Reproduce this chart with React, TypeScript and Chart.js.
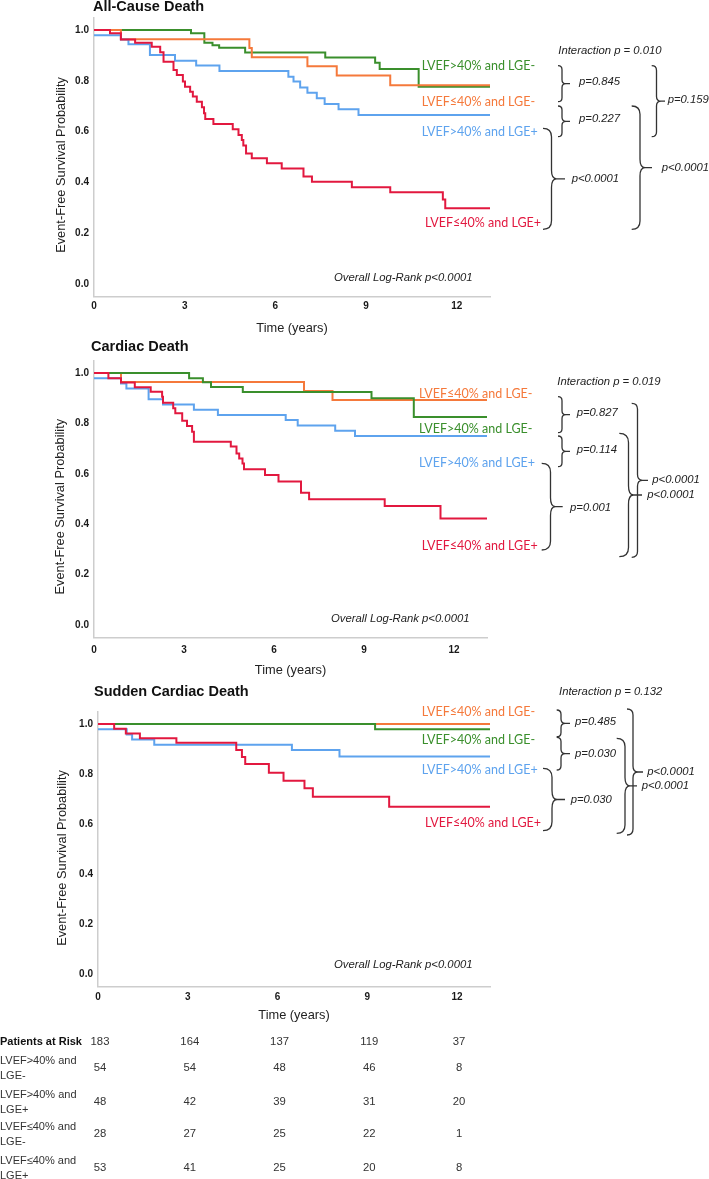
import { useEffect, useRef } from "react";
import { Chart, registerables } from "chart.js";

Chart.register(...registerables);

// ---------------- data ----------------
const X_TICKS = [0, 3, 6, 9, 12];
const Y_TICKS = [0, 0.2, 0.4, 0.6, 0.8, 1.0];
const X_MAX = 13.1;

const GROUP_GREEN = "LVEF>40% and LGE-";
const GROUP_BLUE = "LVEF>40% and LGE+";
const GROUP_ORANGE = "LVEF≤40% and LGE-";
const GROUP_RED = "LVEF≤40% and LGE+";

// All-cause death
const acGreenT = [0, 3.21, 3.65, 3.92, 4.14, 5.0, 7.65, 9.3, 9.45, 10.74, 13.1];
const acGreenS = [1.0, 0.987, 0.95, 0.94, 0.93, 0.911, 0.892, 0.871, 0.846, 0.777, 0.777];
const acOrangeT = [0, 0.89, 5.14, 5.22, 7.06, 8.03, 9.8, 13.1];
const acOrangeS = [1.0, 0.964, 0.929, 0.893, 0.857, 0.821, 0.782, 0.782];
const acBlueT = [0, 0.89, 1.14, 1.85, 2.68, 3.38, 4.15, 6.43, 6.6, 6.82, 7.06, 7.37, 7.63, 8.09, 8.75, 13.1];
const acBlueS = [0.979, 0.963, 0.944, 0.902, 0.879, 0.86, 0.839, 0.816, 0.797, 0.774, 0.753, 0.731, 0.709, 0.688, 0.665, 0.665];
const acRedT = [0, 0.53, 0.89, 1.36, 1.91, 2.19, 2.3, 2.63, 2.74, 2.94, 3.01, 3.18, 3.27, 3.4, 3.57, 3.64, 3.68, 3.95, 4.59, 4.78, 4.89, 4.94, 5.03, 5.22, 5.72, 6.21, 6.93, 7.21, 8.53, 9.8, 11.54, 11.62, 13.1];
const acRedS = [1.0, 0.987, 0.963, 0.95, 0.934, 0.912, 0.875, 0.843, 0.823, 0.797, 0.777, 0.757, 0.738, 0.718, 0.696, 0.672, 0.65, 0.63, 0.609, 0.587, 0.567, 0.545, 0.514, 0.495, 0.475, 0.455, 0.423, 0.403, 0.381, 0.361, 0.333, 0.298, 0.298];

// Cardiac death
const cdGreenT = [0, 3.17, 3.63, 3.9, 4.96, 9.25, 10.66, 13.1];
const cdGreenS = [1.0, 0.979, 0.963, 0.944, 0.925, 0.9, 0.825, 0.825];
const cdOrangeT = [0, 0.9, 7.0, 7.95, 13.1];
const cdOrangeS = [1.0, 0.964, 0.929, 0.893, 0.893];
const cdBlueT = [0, 0.9, 1.08, 1.82, 2.3, 3.33, 4.13, 6.39, 6.79, 8.04, 8.7, 13.1];
const cdBlueS = [0.979, 0.958, 0.938, 0.896, 0.875, 0.854, 0.833, 0.813, 0.792, 0.771, 0.75, 0.75];
const cdRedT = [0, 0.48, 0.9, 1.36, 1.89, 2.27, 2.3, 2.64, 2.71, 2.94, 3.1, 3.27, 3.33, 4.56, 4.75, 4.84, 4.95, 5.0, 5.7, 6.15, 6.9, 7.17, 9.69, 11.55, 13.1];
const cdRedS = [1.0, 0.979, 0.962, 0.943, 0.926, 0.906, 0.882, 0.86, 0.84, 0.811, 0.79, 0.767, 0.727, 0.708, 0.681, 0.661, 0.641, 0.618, 0.595, 0.569, 0.525, 0.499, 0.472, 0.423, 0.423];

// Sudden cardiac death
const scdGreenT = [0, 9.26, 13.1];
const scdGreenS = [1.0, 0.979, 0.979];
const scdOrangeT = [0, 13.1];
const scdOrangeS = [1.0, 1.0];
const scdBlueT = [0, 0.96, 1.14, 1.88, 6.48, 8.07, 13.1];
const scdBlueS = [0.979, 0.958, 0.938, 0.917, 0.896, 0.87, 0.87];
const scdRedT = [0, 0.54, 0.93, 1.4, 2.62, 4.62, 4.81, 4.92, 5.71, 6.2, 6.9, 7.18, 9.73, 13.1];
const scdRedS = [1.0, 0.981, 0.962, 0.943, 0.925, 0.896, 0.868, 0.84, 0.805, 0.773, 0.743, 0.709, 0.669, 0.669];

// Patients at risk
const riskTotal = [183, 164, 137, 119, 37];
const riskGreen = [54, 54, 48, 46, 8];
const riskBlue = [48, 42, 39, 31, 20];
const riskOrange = [28, 27, 25, 22, 1];
const riskRed = [53, 41, 25, 20, 8];

// p-values
const acP = { interaction: "0.010", gvo: "p=0.845", ovb: "p=0.227", bvr: "p<0.0001", g2: "p=0.159", o2: "p<0.0001" };
const cdP = { interaction: "0.019", a: "p=0.827", b: "p=0.114", c: "p=0.001", d: "p<0.0001", e: "p<0.0001" };
const scdP = { interaction: "0.132", a: "p=0.485", b: "p=0.030", c: "p=0.030", d: "p<0.0001", e: "p<0.0001" };

// ---------------- styles ----------------
const C_GREEN = "#3a8f2c";
const C_ORANGE = "#f5793b";
const C_BLUE = "#5ea3ee";
const C_RED = "#e2183f";
const SANS = "'Liberation Sans', Arial, sans-serif";
const LABEL_FONT = "12.5px Lato, 'Liberation Sans', sans-serif";
const Y_AXIS_W = 90;
const X_AXIS_H = 28;

type Brace = { xh: number; xv: number; xt: number; y1: number; y2: number; text: string; tx: number; ty: number };
type Lbl = { text: string; color: string; x: number; y: number };
type Series = { t: number[]; s: number[]; color: string };
type Panel = {
  top: number; height: number; left: number; right: number; areaTop: number; areaBottom: number; tickPad: number;
  title: string; titleX: number; titleY: number; yTitleX: number; yTitleY: number; xTitleY: number;
  interaction: string; interX: number; interY: number; logRankY: number;
  series: Series[]; labels: Lbl[]; braces: Brace[]; table?: boolean;
};

const panels: Panel[] = [
  {
    top: 0, height: 340, left: 94, right: 490, areaTop: 17.3, areaBottom: 296.7, tickPad: 4,
    title: "All-Cause Death", titleX: 93, titleY: 6.5, yTitleX: 61.5, yTitleY: 165, xTitleY: 328.5,
    interaction: acP.interaction, interX: 558.3, interY: 51, logRankY: 277.7,
    series: [
      { t: acRedT, s: acRedS, color: C_RED },
      { t: acBlueT, s: acBlueS, color: C_BLUE },
      { t: acOrangeT, s: acOrangeS, color: C_ORANGE },
      { t: acGreenT, s: acGreenS, color: C_GREEN },
    ],
    labels: [
      { text: GROUP_GREEN, color: C_GREEN, x: 421.7, y: 65.7 },
      { text: GROUP_ORANGE, color: C_ORANGE, x: 421.7, y: 102.3 },
      { text: GROUP_BLUE, color: C_BLUE, x: 421.7, y: 131.7 },
      { text: GROUP_RED, color: C_RED, x: 425, y: 222.7 },
    ],
    braces: [
      { xh: 558, xv: 562, xt: 570, y1: 65.7, y2: 101.7, text: acP.gvo, tx: 579, ty: 82.3 },
      { xh: 558, xv: 562, xt: 570, y1: 106, y2: 136.7, text: acP.ovb, tx: 579, ty: 119.3 },
      { xh: 543, xv: 551.5, xt: 565, y1: 128.3, y2: 229.3, text: acP.bvr, tx: 571.7, ty: 179.3 },
      { xh: 651.7, xv: 656.5, xt: 665, y1: 65.7, y2: 136.7, text: acP.g2, tx: 667.7, ty: 100 },
      { xh: 631.7, xv: 640, xt: 652, y1: 106, y2: 229.3, text: acP.o2, tx: 661.7, ty: 167.7 },
    ],
  },
  {
    top: 340, height: 340, left: 94, right: 487, areaTop: 360.4, areaBottom: 637.6, tickPad: 7,
    title: "Cardiac Death", titleX: 91, titleY: 347.3, yTitleX: 60.5, yTitleY: 506.7, xTitleY: 670,
    interaction: cdP.interaction, interX: 557.3, interY: 381.7, logRankY: 619,
    series: [
      { t: cdRedT, s: cdRedS, color: C_RED },
      { t: cdBlueT, s: cdBlueS, color: C_BLUE },
      { t: cdGreenT, s: cdGreenS, color: C_GREEN },
      { t: cdOrangeT, s: cdOrangeS, color: C_ORANGE },
    ],
    labels: [
      { text: GROUP_ORANGE, color: C_ORANGE, x: 419, y: 394 },
      { text: GROUP_GREEN, color: C_GREEN, x: 419, y: 429.3 },
      { text: GROUP_BLUE, color: C_BLUE, x: 419, y: 463.3 },
      { text: GROUP_RED, color: C_RED, x: 421.7, y: 546 },
    ],
    braces: [
      { xh: 558, xv: 562, xt: 570, y1: 396.7, y2: 432.7, text: cdP.a, tx: 576.7, ty: 412.7 },
      { xh: 558, xv: 562, xt: 570, y1: 436, y2: 466.7, text: cdP.b, tx: 576.7, ty: 450 },
      { xh: 541.7, xv: 550.5, xt: 562.7, y1: 463.3, y2: 550, text: cdP.c, tx: 570, ty: 508.3 },
      { xh: 631.7, xv: 637.5, xt: 648, y1: 403.3, y2: 557.3, text: cdP.d, tx: 652.3, ty: 480 },
      { xh: 619.3, xv: 628.5, xt: 642, y1: 433.3, y2: 556.7, text: cdP.e, tx: 647.3, ty: 495 },
    ],
  },
  {
    top: 680, height: 499, left: 98, right: 490, areaTop: 711.5, areaBottom: 986.5, tickPad: 5,
    title: "Sudden Cardiac Death", titleX: 94, titleY: 692.3, yTitleX: 62, yTitleY: 858, xTitleY: 1015,
    interaction: scdP.interaction, interX: 559, interY: 691.7, logRankY: 965,
    series: [
      { t: scdRedT, s: scdRedS, color: C_RED },
      { t: scdBlueT, s: scdBlueS, color: C_BLUE },
      { t: scdGreenT, s: scdGreenS, color: C_GREEN },
      { t: scdOrangeT, s: scdOrangeS, color: C_ORANGE },
    ],
    labels: [
      { text: GROUP_ORANGE, color: C_ORANGE, x: 421.7, y: 711.7 },
      { text: GROUP_GREEN, color: C_GREEN, x: 421.7, y: 740 },
      { text: GROUP_BLUE, color: C_BLUE, x: 421.7, y: 770 },
      { text: GROUP_RED, color: C_RED, x: 425, y: 823.3 },
    ],
    braces: [
      { xh: 556.7, xv: 561, xt: 570, y1: 710, y2: 736.7, text: scdP.a, tx: 575, ty: 722.3 },
      { xh: 556.7, xv: 561, xt: 570, y1: 737.3, y2: 770, text: scdP.b, tx: 575, ty: 754.3 },
      { xh: 543, xv: 552, xt: 565, y1: 768.3, y2: 830.7, text: scdP.c, tx: 570.7, ty: 800 },
      { xh: 627, xv: 633, xt: 643, y1: 709, y2: 835, text: scdP.d, tx: 647.3, ty: 771.7 },
      { xh: 616.7, xv: 625, xt: 637, y1: 738.3, y2: 833.3, text: scdP.e, tx: 641.7, ty: 785.7 },
    ],
    table: true,
  },
];

const RISK_ROWS: { name: string; values: number[] }[] = [
  { name: GROUP_GREEN, values: riskGreen },
  { name: GROUP_BLUE, values: riskBlue },
  { name: GROUP_ORANGE, values: riskOrange },
  { name: GROUP_RED, values: riskRed },
];
const RISK_HEADER_Y = 1042.3;
const RISK_ROW_Y = [1068.3, 1102.3, 1134, 1168.3];

function drawBrace(ctx: CanvasRenderingContext2D, b: Brace, dy: number) {
  const y1 = b.y1 - dy;
  const y2 = b.y2 - dy;
  const ym = (y1 + y2) / 2;
  const w = b.xv - b.xh;
  const r = Math.min(w, (y2 - y1) / 4);
  const tipW = Math.min(w, 5);
  ctx.beginPath();
  ctx.moveTo(b.xh, y1);
  ctx.quadraticCurveTo(b.xv, y1, b.xv, y1 + r);
  ctx.lineTo(b.xv, ym - r);
  ctx.quadraticCurveTo(b.xv, ym, b.xv + tipW, ym);
  ctx.quadraticCurveTo(b.xv, ym, b.xv, ym + r);
  ctx.lineTo(b.xv, y2 - r);
  ctx.quadraticCurveTo(b.xv, y2, b.xh, y2);
  ctx.moveTo(b.xv + tipW, ym);
  ctx.lineTo(b.xt, ym);
  ctx.stroke();
}

function makePlugin(p: Panel) {
  return {
    id: "kmAnnotations",
    afterDraw(chart: any) {
      const ctx: CanvasRenderingContext2D = chart.ctx;
      const dy = p.top;
      const area = chart.chartArea;
      ctx.save();
      ctx.textBaseline = "middle";

      // title
      ctx.fillStyle = "#111";
      ctx.textAlign = "left";
      ctx.font = `bold 14.5px ${SANS}`;
      ctx.fillText(p.title, p.titleX, p.titleY - dy);

      // axis titles
      ctx.fillStyle = "#222";
      ctx.font = `12.8px ${SANS}`;
      ctx.textAlign = "center";
      ctx.fillText("Time (years)", (area.left + area.right) / 2, p.xTitleY - dy);
      ctx.save();
      ctx.translate(p.yTitleX, p.yTitleY - dy);
      ctx.rotate(-Math.PI / 2);
      ctx.fillText("Event-Free Survival Probability", 0, 0);
      ctx.restore();

      // log-rank
      ctx.font = `italic 11.3px ${SANS}`;
      ctx.textAlign = "right";
      ctx.fillStyle = "#222";
      ctx.fillText("Overall Log-Rank p<0.0001", area.right - 17.5, p.logRankY - dy);

      // curve labels
      ctx.textAlign = "left";
      ctx.font = LABEL_FONT;
      p.labels.forEach((l) => {
        ctx.fillStyle = l.color;
        ctx.fillText(l.text, l.x, l.y - dy);
      });

      // interaction
      ctx.fillStyle = "#222";
      ctx.font = `italic 11.3px ${SANS}`;
      ctx.fillText(`Interaction p = ${p.interaction}`, p.interX, p.interY - dy);

      // braces
      ctx.strokeStyle = "#333";
      ctx.lineWidth = 1.3;
      p.braces.forEach((b) => {
        drawBrace(ctx, b, dy);
        ctx.fillText(b.text, b.tx, b.ty - dy);
      });

      // risk table
      if (p.table) {
        const xs = chart.scales.x;
        ctx.font = `bold 11px ${SANS}`;
        ctx.fillStyle = "#111";
        ctx.textAlign = "left";
        ctx.fillText("Patients at Risk", 0, RISK_HEADER_Y - dy);
        ctx.font = `11.3px ${SANS}`;
        ctx.fillStyle = "#333";
        ctx.textAlign = "center";
        X_TICKS.forEach((t, i) => {
          ctx.fillText(String(riskTotal[i]), xs.getPixelForValue(t) + 2, RISK_HEADER_Y - dy);
        });
        RISK_ROWS.forEach((row, r) => {
          const y = RISK_ROW_Y[r] - dy;
          const parts = row.name.split(" and ");
          ctx.textAlign = "left";
          ctx.font = `11px ${SANS}`;
          ctx.fillText(parts[0] + " and", 0, y - 7.5);
          ctx.fillText(parts[1], 0, y + 7.5);
          ctx.textAlign = "center";
          ctx.font = `11.3px ${SANS}`;
          X_TICKS.forEach((t, i) => {
            ctx.fillText(String(row.values[i]), xs.getPixelForValue(t) + 2, y);
          });
        });
      }
      ctx.restore();
    },
  };
}

function KMPanel({ p }: { p: Panel }) {
  const ref = useRef<HTMLCanvasElement | null>(null);
  useEffect(() => {
    if (!ref.current) return;
    const tickFont = { family: SANS, size: 10, weight: "bold" as const };
    const chart = new Chart(ref.current, {
      type: "line",
      data: {
        datasets: p.series.map((s) => ({
          data: s.t.map((t, i) => ({ x: t, y: s.s[i] })),
          borderColor: s.color,
          borderWidth: 2,
          pointRadius: 0,
          stepped: true,
          fill: false,
          tension: 0,
        })),
      },
      options: {
        animation: false,
        responsive: false,
        maintainAspectRatio: false,
        events: [],
        layout: {
          padding: {
            left: p.left - Y_AXIS_W,
            right: 709 - p.right,
            top: p.areaTop - p.top,
            bottom: p.top + p.height - p.areaBottom - X_AXIS_H,
          },
        },
        scales: {
          x: {
            type: "linear",
            min: 0,
            max: X_MAX,
            afterBuildTicks: (ax: any) => {
              ax.ticks = X_TICKS.map((v) => ({ value: v }));
            },
            afterFit: (ax: any) => {
              ax.height = X_AXIS_H;
            },
            grid: { display: false, drawTicks: false },
            border: { display: true, color: "#cdcdcd", width: 1.5 },
            ticks: {
              font: tickFont,
              color: "#1a1a1a",
              padding: p.tickPad,
              maxRotation: 0,
              autoSkip: false,
              callback: (v: any) => String(v),
            },
          },
          y: {
            type: "linear",
            min: -0.05,
            max: 1.05,
            afterBuildTicks: (ax: any) => {
              ax.ticks = Y_TICKS.map((v) => ({ value: v }));
            },
            afterFit: (ax: any) => {
              ax.width = Y_AXIS_W;
            },
            grid: { display: false, drawTicks: false },
            border: { display: true, color: "#cdcdcd", width: 1.5 },
            ticks: {
              font: tickFont,
              color: "#1a1a1a",
              padding: 5,
              autoSkip: false,
              callback: (v: any) => Number(v).toFixed(1),
            },
          },
        },
        plugins: {
          legend: { display: false },
          tooltip: { enabled: false },
          title: { display: false },
        },
      },
      plugins: [makePlugin(p)],
    });
    return () => chart.destroy();
  }, [p]);
  return (
    <canvas
      ref={ref}
      width={709}
      height={p.height}
      style={{ position: "absolute", left: 0, top: p.top, width: 709, height: p.height }}
    />
  );
}

export default function App() {
  useEffect(() => {
    document.body.style.margin = "0";
  }, []);
  return (
    <div style={{ position: "absolute", left: 0, top: 0, width: 709, height: 1179, overflow: "hidden", background: "#fff" }}>
      {panels.map((p, i) => (
        <KMPanel key={i} p={p} />
      ))}
    </div>
  );
}
